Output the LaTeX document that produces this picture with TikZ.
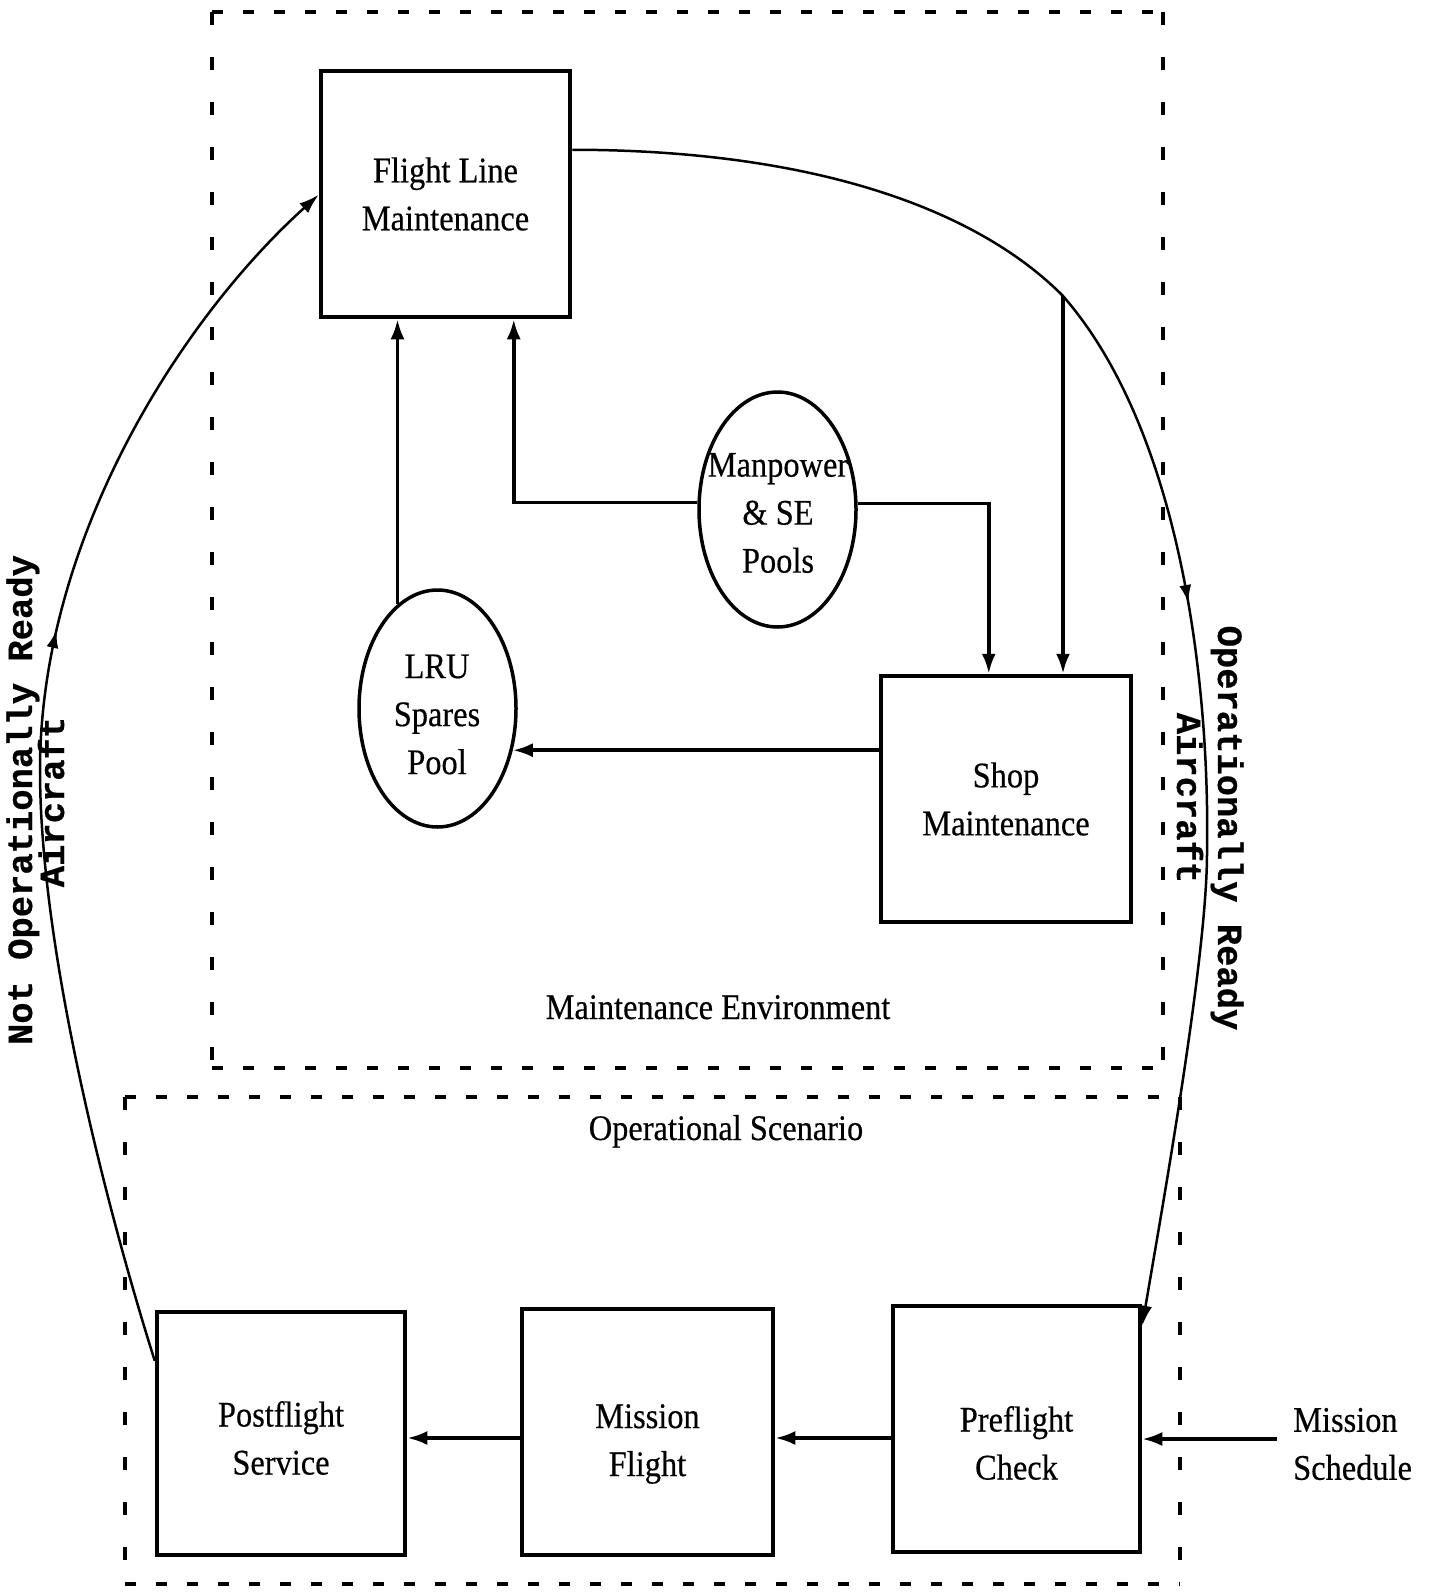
\documentclass[tikz,border=0pt]{standalone}
\usepackage{fontspec}
\setmainfont{Liberation Serif}[FakeStretch=0.9,FakeBold=0.4]
\newfontfamily\rotfam{Liberation Mono}[FakeBold=0.5]
\usetikzlibrary{arrows.meta,calc,decorations.markings,shapes.geometric}
\newcommand\diagtxt{\fontsize{36}{48}\selectfont}
\newcommand\diagrot{\rotfam\bfseries\fontsize{35.5}{40}\selectfont}
\begin{document}
\begin{tikzpicture}[x=1pt,y=-1pt,
  sq/.style={draw,line width=4.5pt,inner sep=0pt,align=center,font=\diagtxt},
  pool/.style={draw,ellipse,line width=3.5pt,inner sep=0pt},
  lbl/.style={inner sep=0pt,font=\diagtxt},
  rotlbl/.style={inner sep=0pt,font=\diagrot,anchor=base},
  conn/.style={line width=3.5pt,-{Latex[length=20pt,width=14pt]}},
  curvearrow/.style={line width=2.5pt,-{Latex[length=20pt,width=13pt]}},
  dh/.style={line width=4.5pt,dash pattern=on 11pt off 20pt},
  dv/.style={line width=4.5pt,dash pattern=on 13pt off 32pt}]
\fill[white] (0,0) rectangle (1432,1592);
\useasboundingbox (0,0) rectangle (1432,1592);

% dashed environment boxes
\draw[dh] (212,12) -- (1163,12);
\draw[dh] (212,1068) -- (1163,1068);
\draw[dv] (212,12) -- (212,1068);
\draw[dv] (1163,12) -- (1163,1068);
\draw[dh] (125,1097) -- (1180,1097);
\draw[dh] (125,1584) -- (1180,1584);
\draw[dv] (125,1097) -- (125,1584);
\draw[dv] (1180,1097) -- (1180,1584);

% nodes
\node[sq,minimum width=249pt,minimum height=246pt] (FL) at (445.5,194) {Flight Line\\Maintenance};
\node[sq,minimum width=250pt,minimum height=246pt] (SM) at (1006,799) {Shop\\Maintenance};
\node[sq,minimum width=248pt,minimum height=243pt] (PS) at (281,1433.5) {};
\node[lbl,align=center] (PSt) at (281,1438) {Postflight\\Service};
\node[sq,minimum width=251pt,minimum height=246pt] (MF) at (647.5,1432) {};
\node[lbl,align=center] (MFt) at (647.5,1444) {Mission\\Flight};
\node[sq,minimum width=247pt,minimum height=246pt] (PC) at (1016.5,1429) {};
\node[lbl,align=center] (PCt) at (1016.5,1443) {Preflight\\Check};
\node[pool,minimum width=157pt,minimum height=235pt] (MP) at (777.5,509.5) {};
\node[lbl,align=center] (MPt) at (778,513) {Manpower\\\&{} SE\\Pools};
\node[pool,minimum width=157pt,minimum height=237pt] (LRU) at (437.5,708.5) {};
\node[lbl,align=center] (LRUt) at (437,714.5) {LRU\\Spares\\Pool};
\node[lbl,align=left,anchor=west] (MS) at (1293,1444) {Mission\\Schedule};

% area labels
\node[lbl,anchor=base] (ME) at (718,1019) {Maintenance Environment};
\node[lbl,anchor=base] (OS) at (726,1140) {Operational Scenario};

% rotated labels
\node[rotlbl,rotate=90] (NOR1) at (32,800) {Not Operationally Ready};
\node[rotlbl,rotate=90] (NOR2) at (64,802) {Aircraft};
\node[rotlbl,rotate=-90] (OR1) at (1218,828) {Operationally Ready};
\node[rotlbl,rotate=-90] (OR2) at (1177,798) {Aircraft};

% coordinates
\coordinate (lc0) at ($(PS.north west)+(0,51)$);
\coordinate (lc1) at ($(FL.north west)+(0,126)$);
\coordinate (rc0) at ($(FL.north east)+(0,81)$);
\coordinate (rc1) at ($(PC.north east)+(0,22)$);
\coordinate (br) at (1063,296);
\coordinate (MSs) at (1277,1439);

% big curves
\draw[curvearrow,postaction={decorate},
  decoration={markings,mark=at position 745pt with {\arrow{Latex[length=18pt,width=12pt]}}}]
  (lc0) .. controls (114,1232) and (40,960) .. (40,770)
        .. controls (40,540) and (180,320) .. (lc1);
\draw[curvearrow,postaction={decorate},
  decoration={markings,mark=at position 860pt with {\arrow{Latex[length=18pt,width=12pt]}}}]
  (rc0) .. controls (820,150) and (980,212) .. (br)
        .. controls (1180,430) and (1210,680) .. (1207,853)
        .. controls (1207,960) and (1160,1220) .. (rc1);

% connectors
\draw[conn] ([yshift=7pt]MP.west) -| ($(FL.south west)+(195,0)$);
\draw[conn] ([yshift=6pt]MP.east) -| ($(SM.north west)+(110,0)$);
\draw[conn] (LRU.111.75) -- (LRU.111.75 |- FL.south);
\draw[conn] (SM.west |- LRU.-29.45) -- (LRU.-29.45);
\draw[conn] (br) -- (br |- SM.north);
\draw[conn] (MSs) -- (MSs -| PC.east);
\draw[conn] ([yshift=-9pt]PC.west) -- ([yshift=-9pt]PC.west -| MF.east);
\draw[conn] ([yshift=-6pt]MF.west) -- ([yshift=-6pt]MF.west -| PS.east);
\end{tikzpicture}
\end{document}
